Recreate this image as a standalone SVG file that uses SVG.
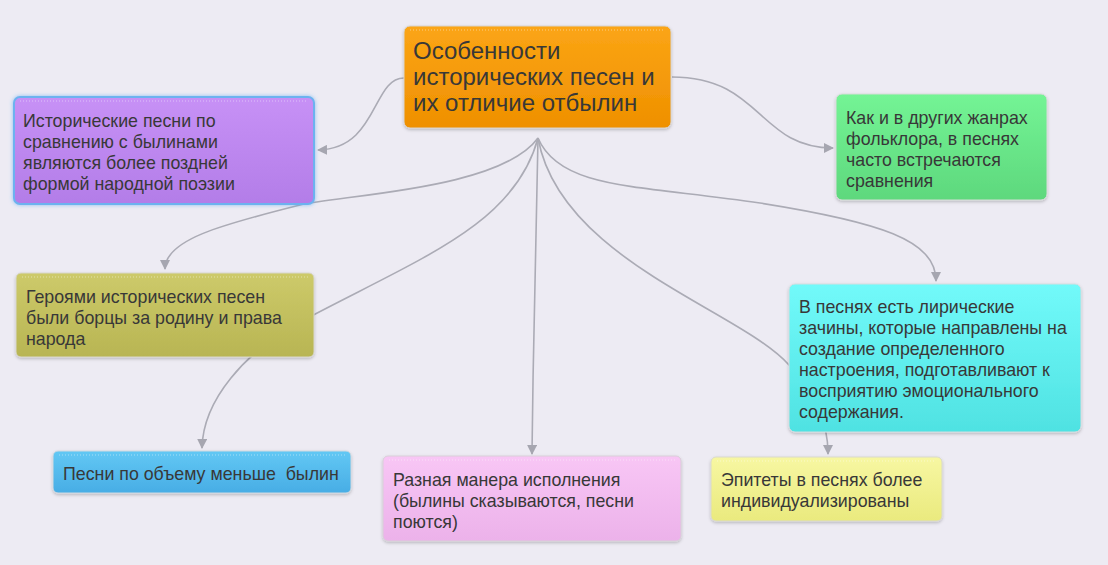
<svg xmlns="http://www.w3.org/2000/svg" width="1108" height="565" viewBox="0 0 1108 565">
<style>
  text { font-family: "Liberation Sans", Arial, sans-serif; fill: #383838; }
  .t16 { font-size: 17.8px; }
  .t22 { font-size: 24px; }
  .pre { white-space: pre; }
  .conn path { fill: none; stroke: #ababb5; stroke-width: 1.6; }
  .dots { stroke: #ffffff; stroke-opacity: 0.45; stroke-width: 1; stroke-dasharray: 1 2; }
</style>
<defs>
  <marker id="arr" viewBox="0 0 10 10" refX="9" refY="5" markerWidth="10" markerHeight="10" markerUnits="userSpaceOnUse" orient="auto">
    <path d="M0,0 L10,5 L0,10 Z" fill="#a6a6b0"/>
  </marker>
  <filter id="sh" x="-10%" y="-10%" width="120%" height="130%">
    <feDropShadow dx="0" dy="1.5" stdDeviation="1.5" flood-color="#000" flood-opacity="0.22"/>
  </filter>
  <filter id="glow" x="-10%" y="-10%" width="120%" height="130%">
    <feDropShadow dx="0" dy="0" stdDeviation="2" flood-color="#4aa3f0" flood-opacity="0.6"/>
  </filter>
  <linearGradient id="gOr" x1="0" y1="0" x2="0" y2="1"><stop offset="0" stop-color="#fba515"/><stop offset="1" stop-color="#ef9000"/></linearGradient>
  <linearGradient id="gPu" x1="0" y1="0" x2="0" y2="1"><stop offset="0" stop-color="#c791f6"/><stop offset="1" stop-color="#b37de8"/></linearGradient>
  <linearGradient id="gGr" x1="0" y1="0" x2="0" y2="1"><stop offset="0" stop-color="#74f495"/><stop offset="1" stop-color="#5ed87d"/></linearGradient>
  <linearGradient id="gOl" x1="0" y1="0" x2="0" y2="1"><stop offset="0" stop-color="#cdca6a"/><stop offset="1" stop-color="#b8b553"/></linearGradient>
  <linearGradient id="gCy" x1="0" y1="0" x2="0" y2="1"><stop offset="0" stop-color="#72fafa"/><stop offset="1" stop-color="#4fe2e2"/></linearGradient>
  <linearGradient id="gBl" x1="0" y1="0" x2="0" y2="1"><stop offset="0" stop-color="#62c8f4"/><stop offset="1" stop-color="#48ade5"/></linearGradient>
  <linearGradient id="gPk" x1="0" y1="0" x2="0" y2="1"><stop offset="0" stop-color="#f8c6f5"/><stop offset="1" stop-color="#ecb2ea"/></linearGradient>
  <linearGradient id="gYe" x1="0" y1="0" x2="0" y2="1"><stop offset="0" stop-color="#f7f7a2"/><stop offset="1" stop-color="#eaea7e"/></linearGradient>
</defs>
<rect width="1108" height="565" fill="#edebf3"/>

<g id="connectors" class="conn">
  <path d="M404,78 C372,78 378,149 318,150" marker-end="url(#arr)"/>
  <path d="M672,77 C762,77 758,148 833,148" marker-end="url(#arr)"/>
  <path d="M538,138 C500,190 340,195 300,205 C220,225 165,240 165,269" marker-end="url(#arr)"/>
  <path d="M538,138 C515,225 420,258 300,322 C245,352 203,400 202,448" marker-end="url(#arr)"/>
  <path d="M538,138 C536,250 533,350 532,454" marker-end="url(#arr)"/>
  <path d="M538,138 C560,190 640,185 760,203 C880,222 936,240 936,281" marker-end="url(#arr)"/>
  <path d="M538,138 C560,260 740,310 789,365 C815,395 828,420 828,454" marker-end="url(#arr)"/>
</g>

<g id="node-center">
  <rect x="404" y="26" width="267" height="102" rx="6" fill="url(#gOr)" stroke="#d9d3cc" stroke-width="1" filter="url(#sh)"/>
  <line x1="410" y1="30" x2="665" y2="30" class="dots"/>
  <text class="t22" x="413" y="59">Особенности</text>
  <text class="t22" x="413" y="85">исторических песен и</text>
  <text class="t22" x="413" y="111">их отличие отбылин</text>
</g>

<g id="node-purple">
  <rect x="14" y="97" width="300" height="107" rx="6" fill="url(#gPu)" stroke="#6cb2ef" stroke-width="2" filter="url(#glow)"/>
  <line x1="20" y1="101" x2="308" y2="101" class="dots"/>
  <text class="t16" x="23" y="127">Исторические песни по</text>
  <text class="t16" x="23" y="148">сравнению с былинами</text>
  <text class="t16" x="23" y="169">являются более поздней</text>
  <text class="t16" x="23" y="190">формой народной поэзии</text>
</g>

<g id="node-green">
  <rect x="836" y="94" width="211" height="106" rx="6" fill="url(#gGr)" stroke="#d6dcd8" stroke-width="1" filter="url(#sh)"/>
  <text class="t16" x="846" y="124">Как и в других жанрах</text>
  <text class="t16" x="846" y="145">фольклора, в песнях</text>
  <text class="t16" x="846" y="166">часто встречаются</text>
  <text class="t16" x="846" y="187">сравнения</text>
</g>

<g id="node-olive">
  <rect x="16" y="273" width="298" height="84" rx="5" fill="url(#gOl)" stroke="#d8d6cc" stroke-width="1" filter="url(#sh)"/>
  <line x1="22" y1="277" x2="308" y2="277" class="dots"/>
  <text class="t16" x="26" y="303">Героями исторических песен</text>
  <text class="t16" x="26" y="324">были борцы за родину и права</text>
  <text class="t16" x="26" y="345">народа</text>
</g>

<g id="node-cyan">
  <rect x="789" y="284" width="292" height="148" rx="6" fill="url(#gCy)" stroke="#d3dde0" stroke-width="1" filter="url(#sh)"/>
  <text class="t16" x="799" y="313">В песнях есть лирические</text>
  <text class="t16" x="799" y="334">зачины, которые направлены на</text>
  <text class="t16" x="799" y="355">создание определенного</text>
  <text class="t16" x="799" y="376">настроения, подготавливают к</text>
  <text class="t16" x="799" y="397">восприятию эмоционального</text>
  <text class="t16" x="799" y="418">содержания.</text>
</g>

<g id="node-blue">
  <rect x="53" y="451" width="298" height="42" rx="5" fill="url(#gBl)" stroke="#cfd8e0" stroke-width="1" filter="url(#sh)"/>
  <line x1="59" y1="455" x2="345" y2="455" class="dots"/>
  <text class="t16 pre" x="63" y="480" xml:space="preserve">Песни по объему меньше  былин</text>
</g>

<g id="node-pink">
  <rect x="383" y="456" width="298" height="85" rx="5" fill="url(#gPk)" stroke="#d8cfd8" stroke-width="1" filter="url(#sh)"/>
  <line x1="389" y1="460" x2="675" y2="460" class="dots"/>
  <text class="t16" x="393" y="486">Разная манера исполнения</text>
  <text class="t16" x="393" y="507">(былины сказываются, песни</text>
  <text class="t16" x="393" y="528">поются)</text>
</g>

<g id="node-yellow">
  <rect x="711" y="457" width="231" height="64" rx="5" fill="url(#gYe)" stroke="#d9d9cc" stroke-width="1" filter="url(#sh)"/>
  <line x1="717" y1="461" x2="936" y2="461" class="dots"/>
  <text class="t16" x="721" y="486">Эпитеты в песнях более</text>
  <text class="t16" x="721" y="507">индивидуализированы</text>
</g>
</svg>
